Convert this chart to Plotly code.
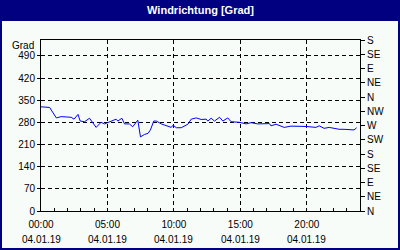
import plotly.graph_objects as go

DAY = "2019-01-04"
times = ["00:00", "00:39", "01:09", "01:31", "02:16", "02:29", "02:47", "02:57", "03:17", "03:39",
         "04:09", "04:31", "04:47", "05:02", "05:39", "05:47", "06:05", "06:17", "06:39", "06:54",
         "07:17", "07:29", "07:48", "08:03", "08:14", "08:29", "08:41", "09:03", "09:26", "09:48",
         "09:56", "10:11", "10:33", "11:03", "11:18", "11:41", "12:03", "12:26", "12:33", "12:48",
         "13:03", "13:26", "13:41", "14:03", "14:18", "14:56", "15:26", "15:48", "16:18", "17:11",
         "17:18", "17:41", "18:18", "18:48", "19:56", "20:41", "20:56", "21:18", "21:41", "22:03",
         "22:26", "22:48", "23:11", "23:33", "23:45"]
direction = [329, 327, 294, 298, 296, 290, 305, 284, 282, 293,
             264, 280, 275, 280, 290, 284, 293, 275, 275, 266,
             287, 234, 242, 245, 256, 284, 284, 275, 269, 264,
             271, 263, 263, 274, 290, 294, 289, 290, 284, 293,
             284, 296, 284, 294, 282, 280, 275, 279, 275, 276,
             269, 274, 264, 268, 267, 264, 269, 261, 264, 261,
             258, 258, 256, 256, 263]

x_tick_times = ["00:00", "05:00", "10:00", "15:00", "20:00"]
x_tick_dates = ["04.01.19", "04.01.19", "04.01.19", "04.01.19", "04.01.19"]
y_ticks = [0, 70, 140, 210, 280, 350, 420, 490]
compass_vals = [0, 45, 90, 135, 180, 225, 270, 315, 360, 405, 450, 495, 540]
compass_text = ["N", "NE", "E", "SE", "S", "SW", "W", "NW", "N", "NE", "E", "SE", "S"]

x = [f"{DAY} {t}" for t in times]
tickvals = [f"{DAY} {t}" for t in x_tick_times]

FONT = "Liberation Sans, Arial, sans-serif"
NAVY = "#000080"
BG = "#F8FCF8"

fig = go.Figure()
fig.add_trace(go.Scatter(x=x, y=direction, mode="lines",
                         line=dict(color="#0000FF", width=1), showlegend=False))
fig.add_trace(go.Scatter(x=x, y=direction, mode="lines", yaxis="y2",
                         line=dict(color="rgba(0,0,0,0)", width=0), showlegend=False,
                         hoverinfo="skip"))

# pixel -> paper helpers (plot area: x 41..360, y 40..211)
L, R, T, B = 41, 360, 40, 211
def px(v):
    return (v - L) / (R - L)
def py(v):
    return (B - v) / (B - T)

shapes = [dict(type="rect", xref="paper", yref="paper", layer="below",
               x0=px(2), x1=px(398), y0=py(248), y1=py(21),
               fillcolor=BG, line=dict(width=0))]

annotations = [dict(text="Grad", xref="paper", yref="paper", x=px(36), y=py(45),
                    xanchor="right", yanchor="middle", showarrow=False,
                    font=dict(family=FONT, size=10, color="black"))]
for tv, d in zip(tickvals, x_tick_dates):
    annotations.append(dict(text=d, xref="x", yref="paper", x=tv, y=py(239),
                            xanchor="center", yanchor="middle", showarrow=False,
                            font=dict(family=FONT, size=10, color="black")))

fig.update_layout(
    width=400, height=250,
    margin=dict(l=L, r=400 - R, t=T, b=250 - B),
    paper_bgcolor=NAVY,
    plot_bgcolor="rgba(0,0,0,0)",
    title=dict(text="<b>Windrichtung [Grad]</b>", x=0.5, xref="paper", xanchor="center",
               y=1 - 10.5 / 250, yref="container", yanchor="middle",
               font=dict(family=FONT, size=11, color="white")),
    shapes=shapes,
    annotations=annotations,
    xaxis=dict(type="date", range=[f"{DAY} 00:00", "2019-01-05 00:00"],
               tickmode="array", tickvals=tickvals, ticktext=x_tick_times,
               ticks="inside", ticklen=3, tickcolor="black",
               showgrid=True, gridcolor="black", griddash="4px,3px", gridwidth=1,
               showline=True, linecolor="black", linewidth=1, mirror=True,
               zeroline=False, ticklabelstandoff=4,
               tickfont=dict(family=FONT, size=10, color="black"),
               minor=dict(dtick=3600000, tick0=f"{DAY} 00:00", ticks="inside",
                          ticklen=3, tickcolor="black", showgrid=False)),
    yaxis=dict(range=[0, 540], tickmode="array", tickvals=y_ticks,
               ticks="outside", ticklen=3, tickcolor="black",
               showgrid=True, gridcolor="black", griddash="4px,3px", gridwidth=1,
               showline=True, linecolor="black", linewidth=1, mirror=True,
               zeroline=False,
               tickfont=dict(family=FONT, size=10, color="black")),
    yaxis2=dict(range=[0, 540], overlaying="y", side="right",
                tickmode="array", tickvals=compass_vals, ticktext=compass_text,
                ticks="outside", ticklen=4, tickcolor="black",
                showgrid=False, showline=True, linecolor="black", linewidth=1,
                zeroline=False,
                tickfont=dict(family=FONT, size=10, color="black")),
)

fig.write_html("out.html")
